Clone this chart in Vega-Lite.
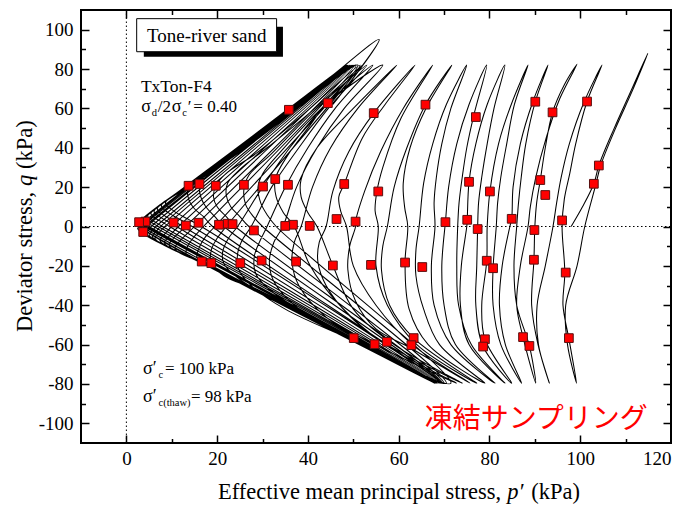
{
  "$schema": "https://vega.github.io/schema/vega-lite/v6.json",
  "width": 590,
  "height": 433,
  "autosize": {"type": "none"},
  "padding": {"left": 81, "top": 10, "right": 18, "bottom": 62},
  "background": "white",
  "config": {
    "view": {"stroke": "black", "strokeWidth": 2},
    "font": "Liberation Serif, Times New Roman, DejaVu Serif, serif",
    "text": {"font": "Liberation Serif, Times New Roman, DejaVu Serif, serif"},
    "style": {"guide-label": {"font": "Liberation Serif, Times New Roman, DejaVu Serif, serif", "fontSize": 19, "fill": "black"}},
    "axis": {"grid": false, "domain": false, "title": null, "labelFont": "Liberation Serif, Times New Roman, DejaVu Serif, serif", "labelFontSize": 19, "labelColor": "black", "tickColor": "black", "tickWidth": 1.5}
  },
  "datasets": {
    "path": [
      {"p":98,"q":0},{"p":100.5,"q":10},{"p":103,"q":21.7},{"p":104.1,"q":31},{"p":107.5,"q":50},{"p":111,"q":68},{"p":114.9,"q":88},{"p":111.3,"q":68},{"p":107.8,"q":50},{"p":104.5,"q":31},{"p":103.4,"q":21},{"p":101,"q":0},{"p":99.3,"q":-20},{"p":96.8,"q":-40},{"p":97.2,"q":-60},{"p":99.2,"q":-79.6},{"p":97.5,"q":-57},{"p":96.2,"q":-40},{"p":96.6,"q":-23.4},{"p":96,"q":0},
      {"p":96.5,"q":14},{"p":97.7,"q":27},{"p":99,"q":42},{"p":101.5,"q":63.5},{"p":104.8,"q":82},{"p":100.8,"q":63},{"p":97.6,"q":42},{"p":95.8,"q":25},{"p":94.8,"q":12},{"p":94,"q":0},{"p":92.3,"q":-20},{"p":90.5,"q":-40},{"p":90.8,"q":-60},{"p":93.2,"q":-79.6},{"p":90.7,"q":-60},{"p":89.3,"q":-40},{"p":89.8,"q":-16.9},{"p":90,"q":0},
      {"p":90.4,"q":12},{"p":91.2,"q":23.6},{"p":92.3,"q":40},{"p":93.9,"q":58},{"p":96.5,"q":72},{"p":99.3,"q":82.5},{"p":95.5,"q":65},{"p":92.5,"q":45},{"p":90.2,"q":25},{"p":89,"q":10},{"p":88.5,"q":0},{"p":86.8,"q":-20},{"p":86,"q":-40},{"p":87.4,"q":-56.2},{"p":90.2,"q":-79.6},{"p":88.8,"q":-60.7},{"p":86,"q":-40},{"p":85.4,"q":-20},{"p":86,"q":0},
      {"p":86.4,"q":12},{"p":87,"q":25},{"p":88,"q":42},{"p":90.1,"q":63.4},{"p":92.9,"q":82},{"p":89.5,"q":63},{"p":86.8,"q":42},{"p":85.2,"q":20},{"p":84.9,"q":3.9},{"p":84.5,"q":0},{"p":82.8,"q":-20},{"p":82.2,"q":-40},{"p":83.5,"q":-60},{"p":87.1,"q":-79.6},{"p":82.5,"q":-60},{"p":80.8,"q":-40},{"p":80.8,"q":-21.2},{"p":81.5,"q":0},
      {"p":81.8,"q":12},{"p":82.5,"q":25},{"p":83.8,"q":42},{"p":85.5,"q":62},{"p":88.5,"q":82},{"p":84.8,"q":62},{"p":82,"q":42},{"p":80.1,"q":17.8},{"p":79.5,"q":0},{"p":79.4,"q":-17.4},{"p":78.3,"q":-40},{"p":79,"q":-57.3},{"p":84.9,"q":-79.6},{"p":78.6,"q":-61},{"p":77,"q":-40},{"p":77.2,"q":-20},{"p":77.4,"q":0},
      {"p":77.6,"q":12},{"p":78.3,"q":25},{"p":79.5,"q":42},{"p":81,"q":60},{"p":83.4,"q":82},{"p":79.5,"q":62},{"p":77,"q":42},{"p":75.5,"q":22.7},{"p":75.1,"q":3.4},{"p":75,"q":0},{"p":73.8,"q":-20},{"p":73.6,"q":-40},{"p":75.5,"q":-60},{"p":83.4,"q":-79.6},{"p":76,"q":-60},{"p":73.2,"q":-40},{"p":72.8,"q":-20},{"p":73,"q":0},
      {"p":73.3,"q":12},{"p":74,"q":25},{"p":75,"q":40},{"p":76.6,"q":57},{"p":79.4,"q":82},{"p":75.5,"q":62},{"p":72.8,"q":42},{"p":71,"q":20},{"p":70.3,"q":2.2},{"p":70.2,"q":0},{"p":69.5,"q":-20},{"p":70,"q":-40},{"p":72.5,"q":-60},{"p":81.2,"q":-79.6},{"p":71.5,"q":-60},{"p":67.8,"q":-40},{"p":67.2,"q":-20},{"p":68,"q":0},
      {"p":67.8,"q":12},{"p":68.3,"q":25},{"p":69.5,"q":42},{"p":71.5,"q":60},{"p":75,"q":82},{"p":70.5,"q":62},{"p":67.5,"q":42},{"p":65.5,"q":22},{"p":64.5,"q":0},{"p":63.8,"q":-12},{"p":63.8,"q":-25},{"p":65.5,"q":-42},{"p":69,"q":-60},{"p":79,"q":-79.6},{"p":66.5,"q":-60},{"p":62.3,"q":-42},{"p":61.4,"q":-18.3},{"p":62,"q":0},
      {"p":61.3,"q":10},{"p":61,"q":22},{"p":62.5,"q":40},{"p":66,"q":60},{"p":71.7,"q":82},{"p":65.9,"q":61.9},{"p":61.8,"q":40},{"p":59,"q":20},{"p":57.5,"q":0},{"p":56.5,"q":-10},{"p":56.2,"q":-22},{"p":58,"q":-40},{"p":63.3,"q":-56.7},{"p":77.2,"q":-79.6},{"p":64,"q":-60},{"p":57.5,"q":-40},{"p":55,"q":-20},{"p":55.5,"q":0},
      {"p":54.8,"q":8},{"p":55.2,"q":17.8},{"p":56.5,"q":30},{"p":60.5,"q":55},{"p":67.5,"q":82},{"p":61,"q":60},{"p":56,"q":38},{"p":52.5,"q":18},{"p":50.5,"q":2.5},{"p":50.5,"q":0},{"p":49.2,"q":-10},{"p":48.8,"q":-22},{"p":50.5,"q":-38},{"p":55,"q":-52},{"p":62.8,"q":-62},{"p":75.7,"q":-79.6},{"p":63,"q":-60},{"p":55,"q":-40},{"p":50,"q":-20},{"p":48.5,"q":0},
      {"p":47.2,"q":8},{"p":46.8,"q":15},{"p":48,"q":21.6},{"p":52,"q":45},{"p":57,"q":62},{"p":63.6,"q":82},{"p":54.5,"q":57.6},{"p":49,"q":38},{"p":45.5,"q":18},{"p":44,"q":0},{"p":42.5,"q":-8},{"p":42.2,"q":-18},{"p":44,"q":-30},{"p":49,"q":-45},{"p":56,"q":-58},{"p":74,"q":-79.6},{"p":59,"q":-60},{"p":50,"q":-42},{"p":45.5,"q":-19.8},{"p":42,"q":0},
      {"p":40,"q":7},{"p":38.5,"q":15},{"p":38.5,"q":24},{"p":42,"q":40},{"p":50,"q":60},{"p":59.6,"q":82},{"p":51,"q":60},{"p":45,"q":40},{"p":41,"q":20},{"p":38.5,"q":0},{"p":37,"q":-8},{"p":36.5,"q":-18},{"p":38,"q":-30},{"p":44,"q":-46},{"p":54.7,"q":-59.8},{"p":72.7,"q":-79.6},{"p":57,"q":-60},{"p":47,"q":-40},{"p":40.5,"q":-20},{"p":37,"q":0},
      {"p":34.6,"q":7},{"p":33,"q":15},{"p":32.8,"q":24.1},{"p":35.5,"q":36},{"p":40,"q":50},{"p":44.4,"q":62.7},{"p":56.5,"q":82},{"p":48,"q":60},{"p":42,"q":40},{"p":37.5,"q":20},{"p":34.5,"q":0},{"p":32.5,"q":-8},{"p":31.5,"q":-18},{"p":32.5,"q":-28},{"p":37,"q":-40},{"p":45,"q":-52},{"p":71.5,"q":-79.6},{"p":33,"q":0},
      {"p":31,"q":6},{"p":29.6,"q":12},{"p":29,"q":20},{"p":30.1,"q":27},{"p":34,"q":38},{"p":43,"q":60},{"p":54.3,"q":82},{"p":46,"q":60},{"p":40,"q":40},{"p":35,"q":20},{"p":31,"q":0},{"p":29.5,"q":-7},{"p":28.2,"q":-15},{"p":28.5,"q":-24},{"p":31.5,"q":-32},{"p":40,"q":-45},{"p":52,"q":-60},{"p":70.5,"q":-79.6},{"p":30,"q":0},
      {"p":28,"q":5},{"p":26.3,"q":11},{"p":25.9,"q":19},{"p":27,"q":26},{"p":32,"q":37},{"p":41,"q":58},{"p":53,"q":82},{"p":44.5,"q":60},{"p":38,"q":40},{"p":32,"q":20},{"p":27.5,"q":0},{"p":25.5,"q":-7},{"p":24.5,"q":-14},{"p":24.8,"q":-22},{"p":27.5,"q":-30},{"p":35,"q":-42},{"p":52,"q":-60},{"p":70,"q":-79.6},{"p":27,"q":0},
      {"p":25,"q":5},{"p":23,"q":10},{"p":22,"q":16},{"p":22.3,"q":22},{"p":25,"q":29},{"p":31,"q":40},{"p":40,"q":57},{"p":52,"q":82},{"p":43,"q":60},{"p":36,"q":40},{"p":30,"q":20},{"p":24.5,"q":0},{"p":22.5,"q":-6},{"p":21.2,"q":-13},{"p":21.5,"q":-19},{"p":24.5,"q":-26},{"p":30,"q":-34},{"p":39,"q":-45},{"p":52,"q":-60},{"p":69.7,"q":-79.6},{"p":24,"q":0},
      {"p":22,"q":5},{"p":20,"q":10},{"p":19.2,"q":15},{"p":19.7,"q":20.7},{"p":22,"q":27},{"p":28.5,"q":37},{"p":38,"q":55},{"p":51.5,"q":82},{"p":22,"q":0},{"p":20,"q":-6},{"p":18.7,"q":-12},{"p":18.7,"q":-18.6},{"p":21.5,"q":-25},{"p":28.5,"q":-32},{"p":39,"q":-44},{"p":52,"q":-60},{"p":69.5,"q":-79.6},{"p":21.5,"q":0},
      {"p":19.5,"q":5},{"p":17.5,"q":10},{"p":16.4,"q":15},{"p":16.1,"q":21.6},{"p":17.8,"q":27},{"p":22,"q":35},{"p":30,"q":47},{"p":51,"q":82},{"p":19.5,"q":0},{"p":17.5,"q":-5},{"p":16,"q":-11},{"p":15.6,"q":-16},{"p":20.8,"q":-23},{"p":27,"q":-30},{"p":37,"q":-42},{"p":52,"q":-60},{"p":69.3,"q":-79.6},{"p":19,"q":0},
      {"p":17,"q":5},{"p":15,"q":9},{"p":13.7,"q":14},{"p":13.7,"q":20.7},{"p":17,"q":26},{"p":22,"q":35},{"p":30,"q":48},{"p":50.6,"q":82},{"p":17,"q":0},{"p":15,"q":-5},{"p":13.5,"q":-10},{"p":13.2,"q":-14},{"p":16.6,"q":-17.8},{"p":20.8,"q":-23},{"p":27,"q":-30},{"p":37,"q":-42},{"p":52,"q":-60},{"p":69.2,"q":-79.6},{"p":16.5,"q":0},
      {"p":13.7,"q":3.6},{"p":10.5,"q":7.8},{"p":8.6,"q":12},{"p":13.8,"q":20},{"p":26.3,"q":40},{"p":37.7,"q":60},{"p":50.3,"q":82},{"p":15,"q":0},{"p":13.5,"q":-3.4},{"p":11.8,"q":-7.3},{"p":10.7,"q":-11.2},{"p":18.4,"q":-20},{"p":35.8,"q":-40},{"p":52.6,"q":-60},{"p":69.1,"q":-79.6},{"p":14.5,"q":0},
      {"p":12.1,"q":3.2},{"p":9.4,"q":6.8},{"p":7.7,"q":10.5},{"p":13.6,"q":20},{"p":26,"q":40},{"p":37.4,"q":60},{"p":50,"q":82},{"p":13,"q":0},{"p":11.7,"q":-2.9},{"p":10.3,"q":-6.2},{"p":9.4,"q":-9.6},{"p":18.3,"q":-20},{"p":35.6,"q":-40},{"p":52.4,"q":-60},{"p":68.9,"q":-79.6},{"p":12.5,"q":0},
      {"p":10.5,"q":2.7},{"p":8.2,"q":5.8},{"p":6.8,"q":8.9},{"p":13.5,"q":20},{"p":25.8,"q":40},{"p":37.2,"q":60},{"p":49.8,"q":82},{"p":11.5,"q":0},{"p":10.4,"q":-2.5},{"p":9.2,"q":-5.5},{"p":8.4,"q":-8.4},{"p":18.2,"q":-20},{"p":35.4,"q":-40},{"p":52.2,"q":-60},{"p":68.7,"q":-79.6},{"p":11,"q":0},
      {"p":9.3,"q":2.3},{"p":7.3,"q":5},{"p":6.1,"q":7.7},{"p":13.4,"q":20},{"p":25.6,"q":40},{"p":37,"q":60},{"p":49.6,"q":82},{"p":10,"q":0},{"p":9.1,"q":-2.2},{"p":8.1,"q":-4.7},{"p":7.4,"q":-7.2},{"p":18.1,"q":-20},{"p":35.2,"q":-40},{"p":52,"q":-60},{"p":68.5,"q":-79.6},{"p":9.5,"q":0},
      {"p":8.1,"q":2},{"p":6.4,"q":4.2},{"p":5.4,"q":6.5},{"p":13.3,"q":20},{"p":25.4,"q":40},{"p":36.8,"q":60},{"p":49.4,"q":82},{"p":8.5,"q":0},{"p":7.7,"q":-1.8},{"p":6.9,"q":-3.9},{"p":6.3,"q":-6},{"p":18,"q":-20},{"p":35.1,"q":-40},{"p":51.9,"q":-60},{"p":68.4,"q":-79.6},{"p":8,"q":0},
      {"p":6.8,"q":1.6},{"p":5.5,"q":3.4},{"p":4.7,"q":5.3},{"p":13.2,"q":20},{"p":25.2,"q":40},{"p":36.6,"q":60},{"p":49.2,"q":82},{"p":7.5,"q":0},{"p":6.9,"q":-1.6},{"p":6.2,"q":-3.4},{"p":5.7,"q":-5.2},{"p":18,"q":-20},{"p":35,"q":-40},{"p":51.8,"q":-60},{"p":68.3,"q":-79.6},{"p":7,"q":0},
      {"p":6,"q":1.4},{"p":5,"q":2.9},{"p":4.3,"q":4.5},{"p":13.2,"q":20},{"p":25.1,"q":40},{"p":36.5,"q":60},{"p":49.1,"q":82},{"p":6.5,"q":0},{"p":6,"q":-1.3},{"p":5.4,"q":-2.9},{"p":5,"q":-4.4},{"p":17.9,"q":-20},{"p":34.9,"q":-40},{"p":51.7,"q":-60},{"p":68.2,"q":-79.6},{"p":6,"q":0},
      {"p":5.2,"q":1.1},{"p":4.3,"q":2.4},{"p":3.8,"q":3.7},{"p":13.1,"q":20},{"p":24.9,"q":40},{"p":36.3,"q":60},{"p":48.9,"q":82},{"p":5.5,"q":0},{"p":4.9,"q":-1.8},{"p":4.4,"q":-3.6},{"p":17.9,"q":-20},{"p":34.8,"q":-40},{"p":51.6,"q":-60},{"p":68.1,"q":-79.6},{"p":5,"q":0},
      {"p":4.4,"q":1},{"p":3.9,"q":2},{"p":3.5,"q":3},{"p":13,"q":20},{"p":24.8,"q":40},{"p":36.2,"q":60},{"p":48.8,"q":82},{"p":4.5,"q":0},{"p":4,"q":-1.5},{"p":3.7,"q":-3},{"p":17.9,"q":-20},{"p":34.7,"q":-40},{"p":51.5,"q":-60},{"p":68,"q":-79.6},{"p":4.5,"q":0},
      {"p":3.9,"q":1},{"p":3.4,"q":2.5},{"p":12.9,"q":20},{"p":24.7,"q":40},{"p":36.1,"q":60},{"p":48.7,"q":82},{"p":4,"q":0},{"p":3.5,"q":-1.3},{"p":3.3,"q":-2.6},{"p":17.8,"q":-20},{"p":34.7,"q":-40},{"p":51.5,"q":-60},{"p":68,"q":-79.6},{"p":4,"q":0},
      {"p":3.4,"q":1},{"p":3.2,"q":2.5},{"p":12.9,"q":20},{"p":24.6,"q":40},{"p":36,"q":60},{"p":48.6,"q":82},{"p":3.5,"q":0},{"p":3.1,"q":-1.2},{"p":3,"q":-2.4},{"p":17.8,"q":-20},{"p":34.6,"q":-40},{"p":51.4,"q":-60},{"p":67.9,"q":-79.6},{"p":3.5,"q":0},
      {"p":3,"q":1.5},{"p":12.9,"q":20},{"p":24.5,"q":40},{"p":35.9,"q":60},{"p":48.5,"q":82},{"p":3.2,"q":0},{"p":2.8,"q":-1.5},{"p":17.8,"q":-20},{"p":34.6,"q":-40},{"p":51.4,"q":-60},{"p":67.9,"q":-79.6},{"p":3,"q":0},
      {"p":2.7,"q":1.5},{"p":12.8,"q":20},{"p":24.4,"q":40},{"p":35.8,"q":60},{"p":48.4,"q":82},{"p":2.8,"q":0},{"p":2.5,"q":-1.2},{"p":17.8,"q":-20},{"p":34.6,"q":-40},{"p":51.4,"q":-60},{"p":67.9,"q":-79.6},{"p":2.8,"q":0},
      {"p":2.6,"q":1.5},{"p":12.8,"q":20},{"p":24.4,"q":40},{"p":35.8,"q":60},{"p":45,"q":76},{"p":55.7,"q":95},{"p":45.5,"q":62}
    ],
    "marks": [
      {"p":104.1,"q":31},{"p":103,"q":21.7},{"p":101.5,"q":63.5},{"p":96,"q":3.1},{"p":96.8,"q":-23.4},{"p":97.5,"q":-56.7},
      {"p":93.9,"q":58},{"p":90.1,"q":63.4},{"p":91.2,"q":23.6},{"p":92.3,"q":16},{"p":89.9,"q":-1.8},{"p":89.8,"q":-16.9},{"p":87.4,"q":-56.2},{"p":88.8,"q":-60.7},
      {"p":84.9,"q":3.9},{"p":80.1,"q":17.8},{"p":75.5,"q":22.7},{"p":77,"q":55.6},{"p":75.1,"q":3.4},{"p":77.4,"q":-1.3},{"p":79.4,"q":-17.4},{"p":80.8,"q":-21.2},{"p":79,"q":-57.3},{"p":78.6,"q":-61},
      {"p":70.3,"q":2.2},{"p":65.9,"q":61.9},{"p":65.2,"q":-20.6},{"p":61.4,"q":-18.3},{"p":63.3,"q":-56.7},{"p":62.8,"q":-60.3},{"p":57.4,"q":-58.6},{"p":54.7,"q":-59.8},{"p":50.1,"q":-56.7},
      {"p":54.5,"q":57.6},{"p":55.5,"q":17.8},{"p":50.5,"q":2.5},{"p":46.3,"q":3.8},{"p":48,"q":21.6},{"p":44.4,"q":62.7},{"p":40.4,"q":0.3},{"p":45.5,"q":-19.8},{"p":53.9,"q":-19.5},
      {"p":35.8,"q":59.3},{"p":35.6,"q":21.2},{"p":32.8,"q":24.1},{"p":30.1,"q":20.3},{"p":25.9,"q":21.2},{"p":19.7,"q":20.7},{"p":16.1,"q":21.6},{"p":13.7,"q":20.7},
      {"p":36.7,"q":0.9},{"p":35,"q":0.3},{"p":28.1,"q":-2},{"p":22.3,"q":1.4},{"p":23.4,"q":1.2},{"p":20.4,"q":0.9},{"p":15.9,"q":1.9},{"p":13.1,"q":0.5},{"p":10.4,"q":2},{"p":4.2,"q":2.5},{"p":2.8,"q":2.2},{"p":3.7,"q":-2.8},
      {"p":37.4,"q":-17.8},{"p":29.8,"q":-17.3},{"p":25.1,"q":-18.6},{"p":18.7,"q":-18.6},{"p":16.6,"q":-17.8}
    ]
  },
  "resolve": {"axis": {"x": "independent", "y": "independent"}},
  "layer": [
    {
      "data": {"values": [{}]},
      "mark": {"type": "rule", "color": "black", "strokeWidth": 1, "strokeDash": [1.5, 2.5]},
      "encoding": {
        "x": {"datum": 0, "type": "quantitative", "axis": {"orient": "top", "values": [0, 20, 40, 60, 80, 100], "labels": false, "tickSize": -8}},
        "y": {"datum": -110, "type": "quantitative", "axis": {"orient": "right", "values": [-100, -80, -60, -40, -20, 0, 20, 40, 60, 80, 100], "labels": false, "tickSize": -8}},
        "y2": {"datum": 110}
      }
    },
    {
      "data": {"values": [{}]},
      "mark": {"type": "rule", "color": "black", "strokeWidth": 1, "strokeDash": [1.5, 2.5]},
      "encoding": {
        "x": {"datum": -10, "type": "quantitative", "axis": {"orient": "top", "values": [10, 30, 50, 70, 90, 110], "labels": false, "tickSize": -4.5}},
        "x2": {"datum": 120},
        "y": {"datum": 0, "type": "quantitative", "axis": {"orient": "right", "values": [-90, -70, -50, -30, -10, 10, 30, 50, 70, 90], "labels": false, "tickSize": -4.5}}
      }
    },
    {
      "data": {"name": "path"},
      "mark": {"type": "line", "color": "black", "strokeWidth": 1.05, "interpolate": "catmull-rom"},
      "encoding": {
        "x": {"field": "p", "type": "quantitative", "scale": {"domain": [-10, 120], "nice": false, "zero": false}, "axis": {"orient": "bottom", "values": [0, 20, 40, 60, 80, 100, 120], "ticks": false, "tickSize": 0, "labelPadding": 6, "labelFont": "Liberation Serif, Times New Roman, DejaVu Serif, serif", "labelFontSize": 19}},
        "y": {"field": "q", "type": "quantitative", "scale": {"domain": [-110, 110], "nice": false, "zero": false}, "axis": {"orient": "left", "values": [-100, -80, -60, -40, -20, 0, 20, 40, 60, 80, 100], "ticks": false, "tickSize": 0, "labelPadding": 8, "labelFont": "Liberation Serif, Times New Roman, DejaVu Serif, serif", "labelFontSize": 19, "labelExpr": "datum.value < 0 ? '-' + abs(datum.value) : '' + datum.value"}},
        "order": {"value": null}
      }
    },
    {
      "data": {"name": "marks"},
      "mark": {"type": "point", "shape": "square", "filled": true, "size": 76, "fill": "#ff0000", "stroke": "#5a1010", "strokeWidth": 1, "opacity": 1},
      "encoding": {
        "x": {"field": "p", "type": "quantitative", "axis": {"orient": "bottom", "values": [0, 20, 40, 60, 80, 100], "labels": false, "tickSize": -8}},
        "y": {"field": "q", "type": "quantitative", "axis": {"orient": "left", "values": [-100, -80, -60, -40, -20, 0, 20, 40, 60, 80, 100], "labels": false, "tickSize": -8}}
      }
    },
    {
      "data": {"values": [{}]},
      "mark": {"type": "rect", "fill": "black"},
      "encoding": {
        "x": {"datum": 3.84, "type": "quantitative", "axis": {"orient": "bottom", "values": [10, 30, 50, 70, 90, 110], "labels": false, "tickSize": -4.5}},
        "x2": {"datum": 34.5},
        "y": {"datum": 101.5, "type": "quantitative", "axis": {"orient": "left", "values": [-90, -70, -50, -30, -10, 10, 30, 50, 70, 90], "labels": false, "tickSize": -4.5}},
        "y2": {"datum": 86.3}
      }
    },
    {
      "data": {"values": [{}]},
      "mark": {"type": "rect", "fill": "white", "stroke": "black", "strokeWidth": 1},
      "encoding": {
        "x": {"datum": 2.27, "type": "quantitative", "axis": null},
        "x2": {"datum": 33.1},
        "y": {"datum": 105.6, "type": "quantitative", "axis": null},
        "y2": {"datum": 88.8}
      }
    },
    {
      "data": {"values": [{}]},
      "mark": {"type": "text", "text": "Tone-river sand", "fontSize": 19, "align": "center", "baseline": "middle", "color": "black"},
      "encoding": {"x": {"datum": 17.7, "type": "quantitative", "axis": null}, "y": {"datum": 97.0, "type": "quantitative", "axis": null}}
    },
    {
      "data": {"values": [{}]},
      "mark": {"type": "text", "text": "TxTon-F4", "fontSize": 17.5, "align": "left", "baseline": "alphabetic", "color": "black"},
      "encoding": {"x": {"datum": 3.2, "type": "quantitative", "axis": null}, "y": {"datum": 68.5, "type": "quantitative", "axis": null}}
    },
    {
      "data": {"values": [{"t": "σ", "dx": 0, "dy": 0, "s": 18, "st": "italic"}, {"t": "d", "dx": 10.5, "dy": 4, "s": 10.5, "st": "italic"}, {"t": "/2", "dx": 16.5, "dy": 0, "s": 17, "st": "normal"}, {"t": "σ", "dx": 30.5, "dy": 0, "s": 18, "st": "italic"}, {"t": "c", "dx": 41, "dy": 4, "s": 10.5, "st": "italic"}, {"t": "′", "dx": 46.5, "dy": 0, "s": 17, "st": "normal"}, {"t": "= 0.40", "dx": 52, "dy": 0, "s": 17, "st": "normal"}]},
      "mark": {"type": "text", "align": "left", "baseline": "alphabetic", "color": "black"},
      "encoding": {"x": {"datum": 3.3, "type": "quantitative", "axis": null}, "y": {"datum": 58.3, "type": "quantitative", "axis": null}, "text": {"field": "t"}, "size": {"field": "s", "type": "quantitative", "scale": null}, "xOffset": {"field": "dx", "type": "quantitative", "scale": null}, "yOffset": {"field": "dy", "type": "quantitative", "scale": null}, "fontStyle": {"field": "st", "type": "nominal", "scale": null}}
    },
    {
      "data": {"values": [{"t": "σ′", "dx": 0, "dy": 0, "s": 18, "st": "italic"}, {"t": "c", "dx": 15.5, "dy": 4, "s": 10.5, "st": "italic"}, {"t": "= 100 kPa", "dx": 22, "dy": 0, "s": 17, "st": "normal"}]},
      "mark": {"type": "text", "align": "left", "baseline": "alphabetic", "color": "black"},
      "encoding": {"x": {"datum": 3.66, "type": "quantitative", "axis": null}, "y": {"datum": -74.9, "type": "quantitative", "axis": null}, "text": {"field": "t"}, "size": {"field": "s", "type": "quantitative", "scale": null}, "xOffset": {"field": "dx", "type": "quantitative", "scale": null}, "yOffset": {"field": "dy", "type": "quantitative", "scale": null}, "fontStyle": {"field": "st", "type": "nominal", "scale": null}}
    },
    {
      "data": {"values": [{"t": "σ′", "dx": 0, "dy": 0, "s": 18, "st": "italic"}, {"t": "c(thaw)", "dx": 15.5, "dy": 4.5, "s": 10.5, "st": "italic"}, {"t": "= 98 kPa", "dx": 48, "dy": 0, "s": 17, "st": "normal"}]},
      "mark": {"type": "text", "align": "left", "baseline": "alphabetic", "color": "black"},
      "encoding": {"x": {"datum": 3.66, "type": "quantitative", "axis": null}, "y": {"datum": -89.1, "type": "quantitative", "axis": null}, "text": {"field": "t"}, "size": {"field": "s", "type": "quantitative", "scale": null}, "xOffset": {"field": "dx", "type": "quantitative", "scale": null}, "yOffset": {"field": "dy", "type": "quantitative", "scale": null}, "fontStyle": {"field": "st", "type": "nominal", "scale": null}}
    },
    {
      "data": {"values": [{}]},
      "mark": {"type": "text", "text": "凍結サンプリング", "font": "Noto Sans CJK JP", "fontSize": 28, "align": "center", "baseline": "middle", "color": "#ff0000"},
      "encoding": {"x": {"datum": 90.3, "type": "quantitative", "axis": null}, "y": {"datum": -98.3, "type": "quantitative", "axis": null}}
    },
    {
      "data": {"values": [{}]},
      "mark": {"type": "text", "text": "Effective mean principal stress,", "fontSize": 22.5, "align": "right", "baseline": "alphabetic", "color": "black", "dx": -6},
      "encoding": {"x": {"datum": 83.9, "type": "quantitative", "axis": null}, "y": {"datum": -138.4, "type": "quantitative", "axis": null}}
    },
    {
      "data": {"values": [{}]},
      "mark": {"type": "text", "text": "p′", "fontStyle": "italic", "fontSize": 22.5, "align": "left", "baseline": "alphabetic", "color": "black"},
      "encoding": {"x": {"datum": 83.9, "type": "quantitative", "axis": null}, "y": {"datum": -138.4, "type": "quantitative", "axis": null}}
    },
    {
      "data": {"values": [{}]},
      "mark": {"type": "text", "text": "(kPa)", "fontSize": 22.5, "align": "left", "baseline": "alphabetic", "color": "black", "dx": 24},
      "encoding": {"x": {"datum": 83.9, "type": "quantitative", "axis": null}, "y": {"datum": -138.4, "type": "quantitative", "axis": null}}
    },
    {
      "data": {"values": [{}]},
      "mark": {"type": "text", "text": "Deviator stress,", "fontSize": 22.5, "align": "right", "baseline": "alphabetic", "angle": 270, "color": "black", "dx": -6},
      "encoding": {"x": {"datum": -20.9, "type": "quantitative", "axis": null}, "y": {"datum": 20.6, "type": "quantitative", "axis": null}}
    },
    {
      "data": {"values": [{}]},
      "mark": {"type": "text", "text": "q", "fontStyle": "italic", "fontSize": 22.5, "align": "left", "baseline": "alphabetic", "angle": 270, "color": "black"},
      "encoding": {"x": {"datum": -20.9, "type": "quantitative", "axis": null}, "y": {"datum": 20.6, "type": "quantitative", "axis": null}}
    },
    {
      "data": {"values": [{}]},
      "mark": {"type": "text", "text": "(kPa)", "fontSize": 22.5, "align": "left", "baseline": "alphabetic", "angle": 270, "color": "black", "dx": 17},
      "encoding": {"x": {"datum": -20.9, "type": "quantitative", "axis": null}, "y": {"datum": 20.6, "type": "quantitative", "axis": null}}
    }
  ]
}
